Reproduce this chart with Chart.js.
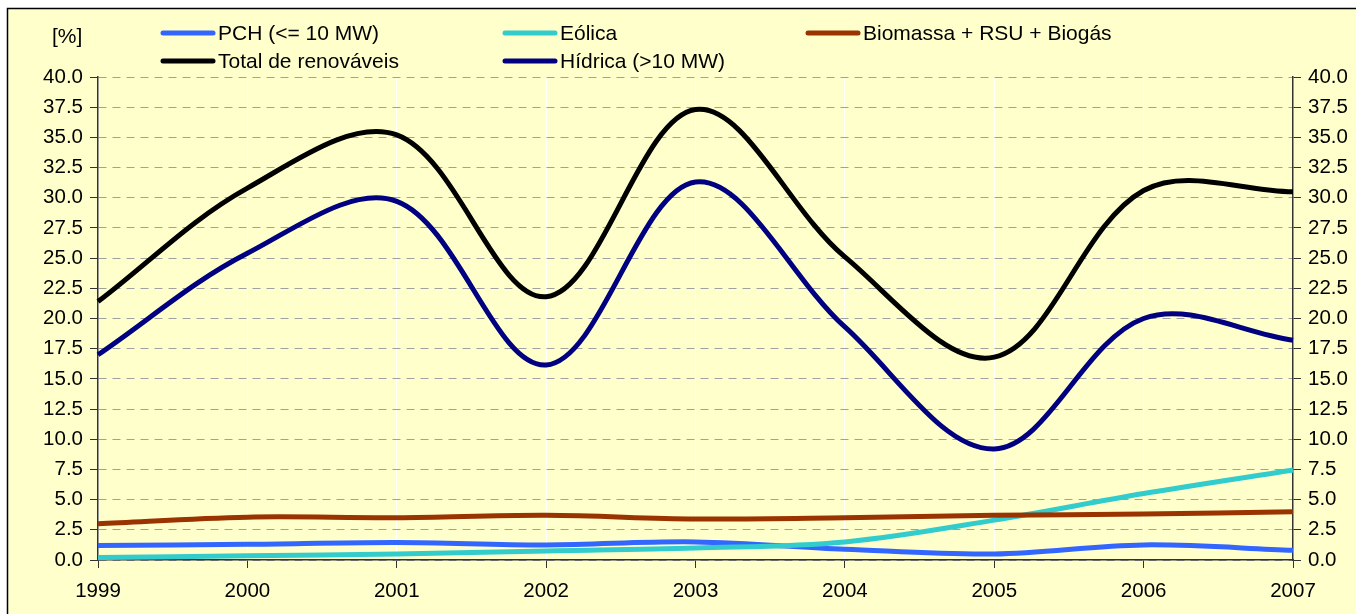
<!DOCTYPE html>
<html>
<head>
<meta charset="utf-8">
<script src="https://cdn.jsdelivr.net/npm/chart.js@4"></script>
<style>
    html, body { margin: 0; padding: 0; background: #ffffff; }
    #wrap { width: 1356px; height: 614px; }
</style>
</head>
<body>
<div id="wrap"><canvas id="renewChart"></canvas></div>
<script>
const years = ['1999', '2000', '2001', '2002', '2003', '2004', '2005', '2006', '2007'];
const pch = [1.2, 1.3, 1.45, 1.25, 1.5, 0.9, 0.5, 1.25, 0.8];
const eolica = [0.2, 0.35, 0.5, 0.75, 1.0, 1.5, 3.3, 5.5, 7.45];
const biomassa = [3.0, 3.55, 3.5, 3.7, 3.4, 3.5, 3.7, 3.8, 4.0];
const total = [21.4, 30.8, 35.2, 21.8, 37.3, 25.1, 16.8, 30.6, 30.5];
const hidrica = [17.0, 25.4, 29.7, 16.15, 31.3, 19.3, 9.2, 20.0, 18.2];
const yTicks = [0, 2.5, 5, 7.5, 10, 12.5, 15, 17.5, 20, 22.5, 25, 27.5, 30, 32.5, 35, 37.5, 40];

const seriesNames = ['PCH (<= 10 MW)', 'Eólica', 'Biomassa + RSU + Biogás', 'Total de renováveis', 'Hídrica (>10 MW)'];
const seriesColors = ['#3366ff', '#33cccc', '#993300', '#000000', '#000080'];
const seriesData = [pch, eolica, biomassa, total, hidrica];

const FONT = 'Liberation Sans, Arial, sans-serif';

const datasets = seriesData.map((values, i) => ({
    label: seriesNames[i],
    data: values,
    borderColor: seriesColors[i],
    backgroundColor: seriesColors[i],
    borderWidth: 5,
    pointRadius: 0,
    tension: 0.35,
    fill: false,
    // later series on top, like the original
    order: seriesData.length - i,
}));

// yellow panel with the frame
const backdrop = {
    id: 'backdrop',
    beforeDraw(chart) {
        const ctx = chart.ctx;
        ctx.save();
        ctx.fillStyle = '#ffffff';
        ctx.fillRect(0, 0, chart.width, chart.height);
        ctx.fillStyle = '#ffffcc';
        ctx.fillRect(7, 8, chart.width, chart.height);
        ctx.strokeStyle = '#000000';
        ctx.lineWidth = 1.5;
        ctx.strokeRect(7.5, 8.5, chart.width + 10, chart.height + 10);
        ctx.restore();
    },
};

// three-column legend and the unit label
const gridLegend = {
    id: 'gridLegend',
    afterDraw(chart) {
        const ctx = chart.ctx;
        const cols = [163, 505, 808];
        const rows = [33, 61];
        ctx.save();
        ctx.font = '21px ' + FONT;
        ctx.textBaseline = 'middle';
        ctx.fillStyle = '#000000';
        ctx.fillText('[%]', 52, 37);
        chart.data.datasets.forEach((ds, i) => {
            const x = cols[i % 3];
            const y = rows[Math.floor(i / 3)];
            ctx.strokeStyle = ds.borderColor;
            ctx.lineWidth = 5;
            ctx.lineCap = 'round';
            ctx.beginPath();
            ctx.moveTo(x, y);
            ctx.lineTo(x + 50, y);
            ctx.stroke();
            ctx.fillStyle = '#000000';
            ctx.fillText(ds.label, x + 55, y + 1);
        });
        ctx.restore();
    },
};

const yAxisBase = {
    min: 0,
    max: 40,
    afterBuildTicks: (scale) => {
        scale.ticks = yTicks.map((v) => ({ value: v }));
    },
    ticks: {
        color: '#000000',
        font: { family: FONT, size: 20.5 },
        padding: 7,
        callback: (v) => Number(v).toFixed(1),
    },
};

var ctx = document.getElementById('renewChart').getContext('2d');
// eslint-disable-next-line no-undef
new Chart(ctx, {
    type: 'line',
    data: {
        labels: years,
        datasets: datasets,
    },
    options: {
        responsive: true,
        maintainAspectRatio: false,
        animation: false,
        layout: {
            padding: { top: 77, left: 0, right: 0, bottom: 0 },
        },
        plugins: {
            legend: { display: false },
            tooltip: { enabled: false },
        },
        scales: {
            x: {
                type: 'category',
                offset: false,
                afterFit: (scale) => {
                    scale.height = 54;
                },
                grid: {
                    color: '#ffffff',
                    lineWidth: 1,
                    tickColor: '#333333',
                    tickLength: 8,
                },
                border: { color: '#333333', width: 1.5 },
                ticks: {
                    color: '#000000',
                    font: { family: FONT, size: 20.5 },
                    padding: 11,
                    maxRotation: 0,
                    autoSkip: false,
                },
            },
            y: {
                ...yAxisBase,
                position: 'left',
                afterFit: (scale) => {
                    scale.width = 98;
                },
                grid: {
                    color: '#a0a0a0',
                    lineWidth: 1,
                    tickColor: '#333333',
                    tickLength: 8,
                },
                border: { color: '#333333', width: 1.5, dash: [8, 6] },
            },
            y2: {
                ...yAxisBase,
                position: 'right',
                afterFit: (scale) => {
                    scale.width = 63;
                },
                grid: {
                    drawOnChartArea: false,
                    tickColor: '#333333',
                    tickLength: 8,
                },
                border: { color: '#333333', width: 1.5 },
            },
        },
    },
    plugins: [backdrop, gridLegend],
});
</script>
</body>
</html>
